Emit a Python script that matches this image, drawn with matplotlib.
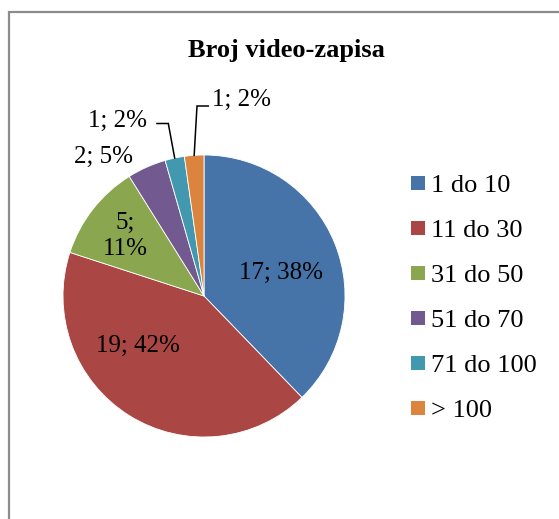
import numpy as np
import matplotlib
matplotlib.use("Agg")
import matplotlib.pyplot as plt
from matplotlib.patches import Rectangle

# ---- data ----
title = "Broj video-zapisa"
categories = ["1 do 10", "11 do 30", "31 do 50", "51 do 70", "71 do 100", "> 100"]
values = [17, 19, 5, 2, 1, 1]
percents = [38, 42, 11, 5, 2, 2]
colors = ["#4673A8", "#AA4644", "#8AA64E", "#72598F", "#4299AF", "#DB843D"]

W, H = 559, 519
plt.rcParams["font.family"] = ["Liberation Serif", "DejaVu Serif"]

fig = plt.figure(figsize=(W / 100, H / 100), dpi=100)
ax = fig.add_axes([0, 0, 1, 1])

def py(y):
    return H - y

cx, cy, R = 204, 296, 141
ax.pie(values, colors=colors, startangle=90, counterclock=False,
       center=(cx, py(cy)), radius=R,
       wedgeprops=dict(edgecolor="white", linewidth=0.6))
ax.set_xlim(0, W)
ax.set_ylim(0, H)
ax.set_aspect("auto")
ax.axis("off")

# chart border (extends past the right and bottom edges)
ax.add_patch(Rectangle((9, py(12) - 600), 700, 600, fill=False,
                       edgecolor="#8c8c8c", linewidth=1.6, clip_on=False))

# title
ax.text(286, py(56.5), title, ha="center", va="baseline",
        fontsize=19, fontweight="bold")

labels = [f"{v}; {p}%" for v, p in zip(values, percents)]
labels[2] = f"{values[2]};\n{percents[2]}%"

# label positions (center x, baseline y in pixels)
lab_pos = [(281, 279), (137.5, 351.5), None, (104, 162.7), (117.5, 126.7), (241, 106)]
for i, lab in enumerate(labels):
    if i == 2:
        a, b = lab.split("\n")
        ax.text(125, py(229.3), a, ha="center", va="baseline", fontsize=18)
        ax.text(125, py(255), b, ha="center", va="baseline", fontsize=18)
        continue
    x, y = lab_pos[i]
    ax.text(x, py(y), lab, ha="center", va="baseline", fontsize=18)

# leader lines for the two smallest slices
tot = sum(values)
cum = np.cumsum([0] + values)
def anchor(i):
    mid = (cum[i] + cum[i + 1]) / 2 / tot * 2 * np.pi
    return cx + R * np.sin(mid), cy - R * np.cos(mid)

leaders = {4: [(168.3, 123.5), (157, 123.5)], 5: [(197, 106), (208.3, 106)]}
for i, pts in leaders.items():
    ax_, ay_ = anchor(i)
    xs = [ax_] + [p[0] for p in pts]
    ys = [py(ay_)] + [py(p[1]) for p in pts]
    ax.plot(xs, ys, color="black", linewidth=1.1, solid_joinstyle="miter")

# legend
for i, (cat, col) in enumerate(zip(categories, colors)):
    yc = 183 + 45 * i
    ax.add_patch(Rectangle((411, py(yc + 7)), 14, 14, facecolor=col, edgecolor="none"))
    ax.text(431, py(yc + 9), cat, ha="left", va="baseline", fontsize=19)

fig.savefig("out.png", dpi=100)
